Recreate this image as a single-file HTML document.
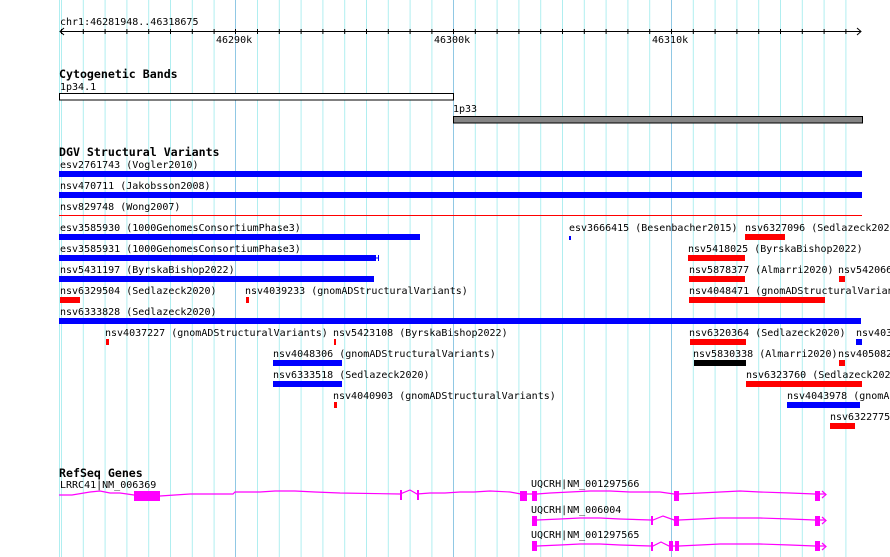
<!DOCTYPE html>
<html><head><meta charset="utf-8"><style>
html,body{margin:0;padding:0;background:#fff;}
svg{display:block;}
text{font-family:"DejaVu Sans Mono","Liberation Mono",monospace;font-size:10px;fill:#000;}
.t{font-weight:bold;font-size:11.6px;}
</style></head><body>
<svg width="890" height="557" viewBox="0 0 890 557" xmlns="http://www.w3.org/2000/svg">
<rect width="890" height="557" fill="#fff"/>
<g stroke="#b0eef0" stroke-width="1">
<line x1="59.5" y1="0" x2="59.5" y2="557"/>
<line x1="61.5" y1="0" x2="61.5" y2="557"/><line x1="83.3" y1="0" x2="83.3" y2="557"/><line x1="105.1" y1="0" x2="105.1" y2="557"/><line x1="126.9" y1="0" x2="126.9" y2="557"/><line x1="148.7" y1="0" x2="148.7" y2="557"/><line x1="170.5" y1="0" x2="170.5" y2="557"/><line x1="192.3" y1="0" x2="192.3" y2="557"/><line x1="214.1" y1="0" x2="214.1" y2="557"/>
<line x1="257.5" y1="0" x2="257.5" y2="557"/><line x1="279.3" y1="0" x2="279.3" y2="557"/><line x1="301.1" y1="0" x2="301.1" y2="557"/><line x1="322.9" y1="0" x2="322.9" y2="557"/><line x1="344.7" y1="0" x2="344.7" y2="557"/><line x1="366.5" y1="0" x2="366.5" y2="557"/><line x1="388.3" y1="0" x2="388.3" y2="557"/><line x1="410.1" y1="0" x2="410.1" y2="557"/><line x1="431.9" y1="0" x2="431.9" y2="557"/>
<line x1="475.3" y1="0" x2="475.3" y2="557"/><line x1="497.1" y1="0" x2="497.1" y2="557"/><line x1="518.9" y1="0" x2="518.9" y2="557"/><line x1="540.7" y1="0" x2="540.7" y2="557"/><line x1="562.5" y1="0" x2="562.5" y2="557"/><line x1="584.3" y1="0" x2="584.3" y2="557"/><line x1="606.1" y1="0" x2="606.1" y2="557"/><line x1="627.9" y1="0" x2="627.9" y2="557"/><line x1="649.7" y1="0" x2="649.7" y2="557"/>
<line x1="693.3" y1="0" x2="693.3" y2="557"/><line x1="715.1" y1="0" x2="715.1" y2="557"/><line x1="736.9" y1="0" x2="736.9" y2="557"/><line x1="758.7" y1="0" x2="758.7" y2="557"/><line x1="780.5" y1="0" x2="780.5" y2="557"/><line x1="802.3" y1="0" x2="802.3" y2="557"/><line x1="824.1" y1="0" x2="824.1" y2="557"/><line x1="845.9" y1="0" x2="845.9" y2="557"/>
</g>
<g stroke="#90c8e4" stroke-width="1">
<line x1="235.5" y1="0" x2="235.5" y2="557"/><line x1="453.5" y1="0" x2="453.5" y2="557"/><line x1="671.5" y1="0" x2="671.5" y2="557"/>
</g>
<text x="60" y="25">chr1:46281948..46318675</text>
<g stroke="#000" stroke-width="1" fill="none">
<line x1="60" y1="31.5" x2="861" y2="31.5"/>
<polyline points="64,28 60,31.5 64,35"/>
<polyline points="857,28 861,31.5 857,35"/>
<path d="M61.5 29v5M83.3 29v5M105.1 29v5M126.9 29v5M148.7 29v5M170.5 29v5M192.3 29v5M214.1 29v5M235.5 29v5M257.5 29v5M279.3 29v5M301.1 29v5M322.9 29v5M344.7 29v5M366.5 29v5M388.3 29v5M410.1 29v5M431.9 29v5M453.5 29v5M475.3 29v5M497.1 29v5M518.9 29v5M540.7 29v5M562.5 29v5M584.3 29v5M606.1 29v5M627.9 29v5M649.7 29v5M671.5 29v5M693.3 29v5M715.1 29v5M736.9 29v5M758.7 29v5M780.5 29v5M802.3 29v5M824.1 29v5M845.9 29v5"/>
</g>
<text x="216" y="43">46290k</text>
<text x="434" y="43">46300k</text>
<text x="652" y="43">46310k</text>
<text class="t" x="59" y="78">Cytogenetic Bands</text>
<text x="60" y="90">1p34.1</text>
<rect x="59.5" y="93.5" width="394" height="6.5" fill="#fff" stroke="#000"/>
<text x="453" y="112">1p33</text>
<rect x="453.5" y="116.5" width="409" height="6.5" fill="#858585" stroke="#000"/>
<text class="t" x="59" y="156">DGV Structural Variants</text>
<text x="60" y="168">esv2761743 (Vogler2010)</text>
<rect x="59" y="171" width="803" height="6" fill="#0000ff"/>
<text x="60" y="189">nsv470711 (Jakobsson2008)</text>
<rect x="59" y="192" width="803" height="6" fill="#0000ff"/>
<text x="60" y="210">nsv829748 (Wong2007)</text>
<rect x="59" y="215" width="803" height="1" fill="#ff0000"/>
<text x="60" y="231">esv3585930 (1000GenomesConsortiumPhase3)</text>
<rect x="59" y="234" width="361" height="6" fill="#0000ff"/>
<text x="569" y="231">esv3666415 (Besenbacher2015)</text>
<rect x="569" y="236" width="2" height="4" fill="#0000ff"/>
<text x="745" y="231">nsv6327096 (Sedlazeck2020)</text>
<rect x="745" y="234" width="40" height="6" fill="#ff0000"/>
<text x="60" y="252">esv3585931 (1000GenomesConsortiumPhase3)</text>
<rect x="59" y="255" width="316" height="6" fill="#0000ff"/>
<path d="M375.5 255v6M378.5 255v6M375 258h4" stroke="#0000ff" stroke-width="1"/>
<text x="688" y="252">nsv5418025 (ByrskaBishop2022)</text>
<rect x="688" y="255" width="57" height="6" fill="#ff0000"/>
<text x="60" y="273">nsv5431197 (ByrskaBishop2022)</text>
<rect x="59" y="276" width="315" height="6" fill="#0000ff"/>
<text x="689" y="273">nsv5878377 (Almarri2020)</text>
<rect x="689" y="276" width="56" height="6" fill="#ff0000"/>
<text x="838" y="273">nsv542066</text>
<rect x="839" y="276" width="6" height="6" fill="#ff0000"/>
<text x="60" y="294">nsv6329504 (Sedlazeck2020)</text>
<rect x="60" y="297" width="20" height="6" fill="#ff0000"/>
<text x="245" y="294">nsv4039233 (gnomADStructuralVariants)</text>
<rect x="246" y="297" width="3" height="6" fill="#ff0000"/>
<text x="689" y="294">nsv4048471 (gnomADStructuralVariants)</text>
<rect x="689" y="297" width="136" height="6" fill="#ff0000"/>
<text x="60" y="315">nsv6333828 (Sedlazeck2020)</text>
<rect x="59" y="318" width="802" height="6" fill="#0000ff"/>
<text x="105" y="336">nsv4037227 (gnomADStructuralVariants)</text>
<rect x="106" y="339" width="3" height="6" fill="#ff0000"/>
<text x="333" y="336">nsv5423108 (ByrskaBishop2022)</text>
<rect x="334" y="339" width="2" height="6" fill="#ff0000"/>
<text x="689" y="336">nsv6320364 (Sedlazeck2020)</text>
<rect x="690" y="339" width="56" height="6" fill="#ff0000"/>
<text x="856" y="336">nsv403</text>
<rect x="856" y="339" width="6" height="6" fill="#0000ff"/>
<text x="273" y="357">nsv4048306 (gnomADStructuralVariants)</text>
<rect x="273" y="360" width="69" height="6" fill="#0000ff"/>
<text x="693" y="357">nsv5830338 (Almarri2020)</text>
<rect x="694" y="360" width="52" height="6" fill="#000"/>
<text x="838" y="357">nsv405082</text>
<rect x="839" y="360" width="6" height="6" fill="#ff0000"/>
<text x="273" y="378">nsv6333518 (Sedlazeck2020)</text>
<rect x="273" y="381" width="69" height="6" fill="#0000ff"/>
<text x="746" y="378">nsv6323760 (Sedlazeck2020)</text>
<rect x="746" y="381" width="116" height="6" fill="#ff0000"/>
<text x="333" y="399">nsv4040903 (gnomADStructuralVariants)</text>
<rect x="334" y="402" width="3" height="6" fill="#ff0000"/>
<text x="787" y="399">nsv4043978 (gnomADStructuralVariants)</text>
<rect x="787" y="402" width="73" height="6" fill="#0000ff"/>
<text x="830" y="420">nsv6322775</text>
<rect x="830" y="423" width="25" height="6" fill="#ff0000"/>
<text class="t" x="59" y="477">RefSeq Genes</text>
<text x="60" y="488">LRRC41|NM_006369</text>
<g stroke="#ff00ff" stroke-width="1.2" fill="none">
<polyline points="59,495 72,495 90,492 100,491 110,493 120,493 134,495 160,496 175,495 190,494 233,494 235,492 260,492 275,491 295,491 315,492 340,493 400,494 410,490 417,494 430,493 445,493 460,492 474,492 490,491 510,492 521,494"/>
<polyline points="527,494 532,494 537,494 550,493 570,492 590,491 610,491 630,492 660,492 674,494 679,494 700,493 720,492 740,491 760,492 790,493 815,494 820,494 825,494"/>
<polyline points="822,491 826,494.5 822,498"/>
<polyline points="532,520 537,520 560,519 580,518 600,518 620,519 651,520 653,520 663,516 674,520 679,520 700,519 720,518 740,518 760,518 790,519 815,520 825,520"/>
<polyline points="822,517 826,520.5 822,524"/>
<polyline points="532,546 537,546 560,545 580,544 600,544 620,545 651,546 653,546 661,542 669,546 679,546 700,545 720,544 740,544 760,544 790,545 815,546 825,546"/>
<polyline points="822,543 826,546.5 822,550"/>
</g>
<g fill="#ff00ff">
<rect x="134" y="491" width="26" height="10"/>
<rect x="400" y="490" width="2" height="10"/>
<rect x="417" y="490" width="2" height="10"/>
<rect x="520" y="491" width="7" height="10"/>
<rect x="532" y="491" width="5" height="10"/>
<rect x="674" y="491" width="5" height="10"/>
<rect x="815" y="491" width="5" height="10"/>
<rect x="532" y="516" width="5" height="10"/>
<rect x="651" y="516" width="2" height="9"/>
<rect x="674" y="516" width="5" height="10"/>
<rect x="815" y="516" width="5" height="10"/>
<rect x="532" y="541" width="5" height="10"/>
<rect x="651" y="542" width="2" height="9"/>
<rect x="669" y="541" width="4" height="10"/>
<rect x="675" y="541" width="4" height="10"/>
<rect x="815" y="541" width="5" height="10"/>
</g>
<text x="531" y="487">UQCRH|NM_001297566</text>
<text x="531" y="513">UQCRH|NM_006004</text>
<text x="531" y="538">UQCRH|NM_001297565</text>
</svg>
</body></html>
